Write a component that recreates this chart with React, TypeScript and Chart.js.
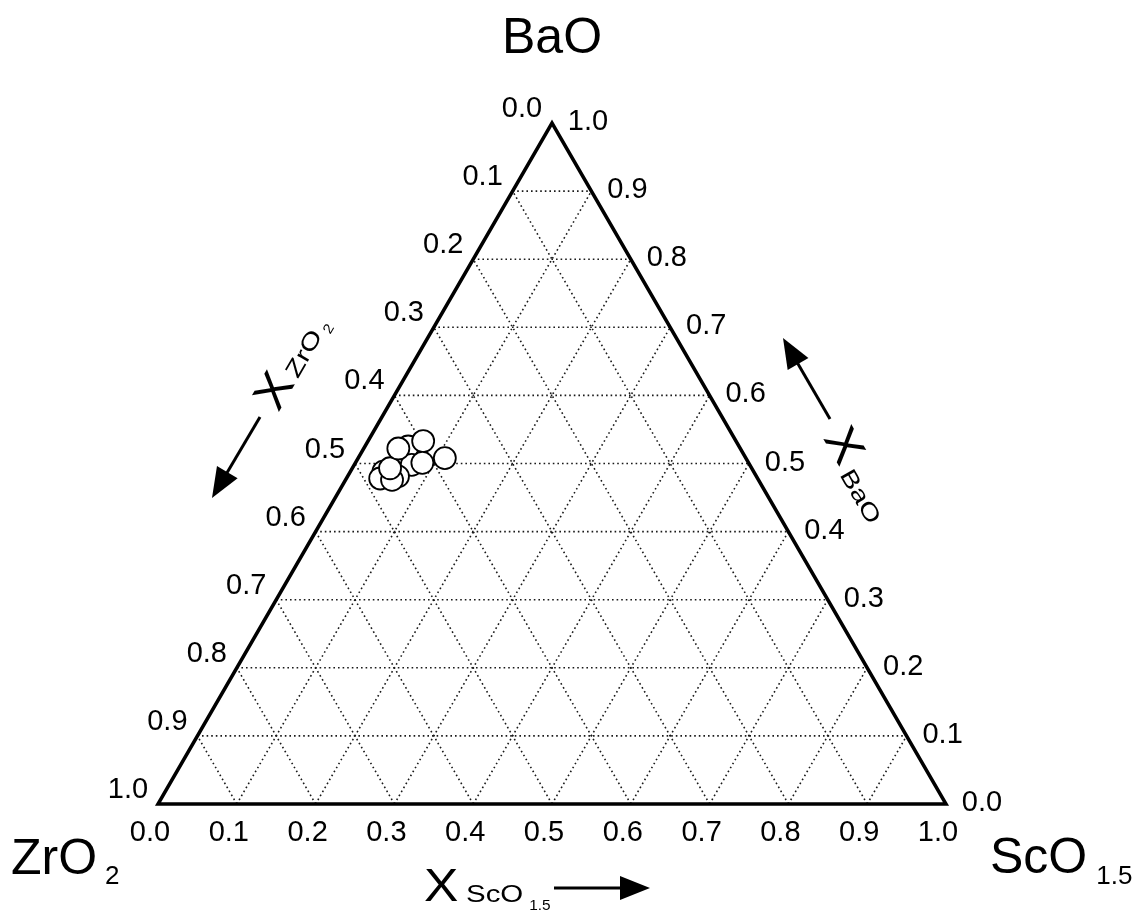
import { useEffect, useRef } from 'react';
import { Chart, registerables } from 'chart.js';

Chart.register(...registerables);

// Measured compositions (mole fractions) of the samples
const xBaO = [0.525, 0.498, 0.481, 0.488, 0.478, 0.476, 0.493, 0.522, 0.533, 0.501, 0.508];
const xScO15 = [0.055, 0.073, 0.064, 0.042, 0.043, 0.059, 0.048, 0.044, 0.070, 0.085, 0.110];
const xZrO2 = [0.420, 0.429, 0.455, 0.470, 0.479, 0.465, 0.459, 0.434, 0.397, 0.414, 0.382];

// Axis tick values and their labels
const tickValues = [0, 0.1, 0.2, 0.3, 0.4, 0.5, 0.6, 0.7, 0.8, 0.9, 1.0];
const tickLabels = ['0.0', '0.1', '0.2', '0.3', '0.4', '0.5', '0.6', '0.7', '0.8', '0.9', '1.0'];
const gridLevels = [0.1, 0.2, 0.3, 0.4, 0.5, 0.6, 0.7, 0.8, 0.9];

const FONT = "'Liberation Sans', Arial, Helvetica, sans-serif";

type Pt = [number, number];

// left-aligned text, optionally widened; returns the drawn width
function wideText(ctx: CanvasRenderingContext2D, text: string, x: number, y: number, size: number, sx = 1): number {
  ctx.save();
  ctx.font = `${size}px ${FONT}`;
  ctx.textAlign = 'left';
  ctx.translate(x, y);
  ctx.scale(sx, 1);
  ctx.fillText(text, 0, 0);
  const w = ctx.measureText(text).width * sx;
  ctx.restore();
  return w;
}

function arrow(ctx: CanvasRenderingContext2D, from: Pt, to: Pt, headLen = 30, headHalf = 12, lw = 3) {
  const dx = to[0] - from[0];
  const dy = to[1] - from[1];
  const len = Math.hypot(dx, dy);
  const ux = dx / len;
  const uy = dy / len;
  const bx = to[0] - ux * headLen;
  const by = to[1] - uy * headLen;
  ctx.save();
  ctx.strokeStyle = '#000';
  ctx.fillStyle = '#000';
  ctx.lineWidth = lw;
  ctx.setLineDash([]);
  ctx.beginPath();
  ctx.moveTo(from[0], from[1]);
  ctx.lineTo(bx + ux * 2, by + uy * 2);
  ctx.stroke();
  ctx.beginPath();
  ctx.moveTo(to[0], to[1]);
  ctx.lineTo(bx - uy * headHalf, by + ux * headHalf);
  ctx.lineTo(bx + uy * headHalf, by - ux * headHalf);
  ctx.closePath();
  ctx.fill();
  ctx.restore();
}

const ternaryPlugin = {
  id: 'ternaryFrame',
  beforeDatasetsDraw(chart: any) {
    const { ctx } = chart;
    const xs = chart.scales.x;
    const ys = chart.scales.y;
    // (BaO, ScO1.5) -> canvas pixel
    const P = (b: number, s: number): Pt => [xs.getPixelForValue(s + b / 2), ys.getPixelForValue(b)];
    const seg = (a: Pt, c: Pt) => {
      ctx.beginPath();
      ctx.moveTo(a[0], a[1]);
      ctx.lineTo(c[0], c[1]);
      ctx.stroke();
    };

    ctx.save();
    // dotted grid
    ctx.strokeStyle = '#1a1a1a';
    ctx.lineWidth = 1.6;
    ctx.setLineDash([1.6, 3]);
    for (const v of gridLevels) {
      seg(P(v, 0), P(v, 1 - v)); // constant BaO
      seg(P(0, v), P(1 - v, v)); // constant ScO1.5
      seg(P(0, 1 - v), P(1 - v, 0)); // constant ZrO2
    }

    // triangle outline
    ctx.setLineDash([]);
    ctx.strokeStyle = '#000';
    ctx.lineWidth = 3.5;
    ctx.lineJoin = 'miter';
    const a = P(0, 0);
    const r = P(0, 1);
    const t = P(1, 0);
    ctx.beginPath();
    ctx.moveTo(a[0], a[1]);
    ctx.lineTo(r[0], r[1]);
    ctx.lineTo(t[0], t[1]);
    ctx.closePath();
    ctx.stroke();

    // tick labels
    ctx.fillStyle = '#000';
    ctx.font = `29px ${FONT}`;
    ctx.textAlign = 'center';
    ctx.textBaseline = 'middle';
    tickValues.forEach((v, i) => {
      const lbl = tickLabels[i];
      const bt = P(0, v); // ScO1.5 along the base
      ctx.fillText(lbl, bt[0] - 8, bt[1] + 29);
      const rt = P(v, 1 - v); // BaO along the right side
      ctx.fillText(lbl, rt[0] + 36, rt[1] - 1);
      const lt = P(1 - v, 0); // ZrO2 along the left side
      ctx.fillText(lbl, lt[0] - 30, lt[1] - 14);
    });
    ctx.restore();
  },
  afterDraw(chart: any) {
    const { ctx } = chart;
    ctx.save();
    ctx.fillStyle = '#000';
    ctx.textBaseline = 'alphabetic';

    // corner component names
    ctx.textAlign = 'center';
    ctx.font = `50px ${FONT}`;
    ctx.fillText('BaO', 552, 53);

    let w = wideText(ctx, 'ZrO', 11, 874, 50);
    wideText(ctx, '2', 11 + w + 8, 884, 26);

    w = wideText(ctx, 'ScO', 990, 873, 50);
    wideText(ctx, '1.5', 990 + w + 9, 884, 26);

    // base axis title
    wideText(ctx, 'X', 424, 901, 46, 1.12);
    w = wideText(ctx, 'ScO', 466, 902, 23, 1.28);
    wideText(ctx, '1.5', 466 + w + 6, 910, 14, 1.1);
    arrow(ctx, [554, 888], [650, 888]);

    // left axis title, rotated along the ZrO2 side
    ctx.save();
    ctx.translate(273, 388);
    ctx.rotate(-Math.PI / 3);
    wideText(ctx, 'X', -19, 17, 46, 1.12);
    w = wideText(ctx, 'ZrO', 20, 17, 23, 1.28);
    wideText(ctx, '2', 20 + w + 4, 23, 14, 1.1);
    ctx.restore();
    arrow(ctx, [260, 417], [212, 498]);

    // right axis title, rotated along the BaO side
    ctx.save();
    ctx.translate(847, 446);
    ctx.rotate(Math.PI / 3);
    wideText(ctx, 'X', -19, 17, 46, 1.12);
    wideText(ctx, 'BaO', 21, 21, 23, 1.28);
    ctx.restore();
    arrow(ctx, [830, 419], [783, 338]);

    ctx.restore();
  },
};

export default function App() {
  const canvasRef = useRef<HTMLCanvasElement | null>(null);

  useEffect(() => {
    document.body.style.margin = '0';
    document.body.style.background = '#fff';
    const canvas = canvasRef.current;
    if (!canvas) return;

    const points = xBaO.map((b, i) => ({ x: xScO15[i] + b / 2, y: b, z: xZrO2[i] }));

    const chart = new Chart(canvas, {
      type: 'scatter',
      data: {
        datasets: [
          {
            label: 'samples',
            data: points,
            pointRadius: 11,
            pointHoverRadius: 11,
            pointBackgroundColor: '#ffffff',
            pointBorderColor: '#000000',
            pointBorderWidth: 1.8,
            showLine: false,
            clip: false as any,
          },
        ],
      },
      options: {
        responsive: false,
        animation: false,
        devicePixelRatio: 1,
        layout: { padding: { left: 158, right: 194, top: 123, bottom: 107 } },
        scales: {
          x: { type: 'linear', min: 0, max: 1, display: false },
          y: { type: 'linear', min: 0, max: 1, display: false },
        },
        plugins: {
          legend: { display: false },
          tooltip: { enabled: false },
        },
        events: [],
      },
      plugins: [ternaryPlugin],
    });

    return () => chart.destroy();
  }, []);

  return (
    <div style={{ position: 'absolute', left: 0, top: 0, width: 1140, height: 911, background: '#fff' }}>
      <canvas ref={canvasRef} width={1140} height={911} style={{ display: 'block' }} />
    </div>
  );
}
